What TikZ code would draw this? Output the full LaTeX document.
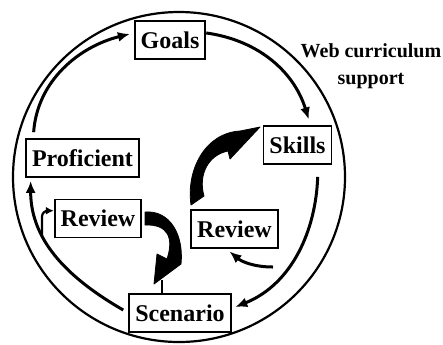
\documentclass[tikz,border=0pt]{standalone}
\usepackage{fontspec}
\setmainfont{Liberation Serif}
\usetikzlibrary{arrows.meta}

\begin{document}
\begin{tikzpicture}[x=0.5pt, y=0.5pt,
  stage/.style={draw, line width=0.9pt, font=\fontsize{12}{14}\selectfont\bfseries,
    minimum height=19pt, inner xsep=3pt, inner ysep=0pt},
  arr/.style={-{Latex[length=6pt,width=5pt]}, line width=1.5pt},
  sarr/.style={-{Latex[length=4pt,width=4pt]}, line width=1.1pt},
  fatarr/.style={fill=black, draw=black, line width=0.4pt, line join=round}
]
  \useasboundingbox (0,0) rectangle (443,-344);
  \draw[line width=1.1pt] (179,-177) ellipse [x radius=83pt, y radius=82.5pt];

  \node[stage] (goals) at (170,-40) {Goals};
  \node[stage] (skills) at (297.5,-145) {Skills};
  \node[stage] (prof) at (82.5,-158) {Proficient};
  \node[stage] (revA) at (98,-218.5) {Review};
  \node[stage] (revB) at (234.5,-229) {Review};
  \node[stage] (scen) at (180,-313) {Scenario};
  \node[font=\fontsize{10}{13.5}\selectfont\bfseries, align=center] (web) at (371,-66)
    {Web curriculum\\support};

  \coordinate (revAtail) at (42,-236);
  \coordinate (revBtail) at (273,-267);
  \coordinate (tipA) at (162,-280);

  \draw[arr, shorten <=3pt, shorten >=2pt] (prof.158) to[out=86,in=194] (goals.169);
  \draw[arr, shorten >=3pt] (goals.11) to[out=-8,in=107] (skills.57);
  \draw[arr, shorten <=6pt, shorten >=2pt] (skills.-44) to[out=-92,in=22] (scen.5);
  \draw[arr, shorten <=3pt, shorten >=1.5pt] (scen.west) to[out=150,in=-90] (prof.201);

  \draw[sarr, rounded corners=3pt] (revAtail) |- (revA.170);
  \draw[arr, shorten >=2pt] (revBtail) to[out=180,in=-40] (revB.248);

  % fat arrows
  \filldraw[fatarr] (145,-212) .. controls (170,-210) and (184,-235) .. (181,-264)
    -- (154,-284) -- (157,-254) -- (167,-259)
    .. controls (174,-238) and (168,-224) .. (145,-225) -- cycle;
  \draw[line width=0.8pt] (tipA) -- (tipA |- scen.north);
  \filldraw[fatarr] (191,-205) .. controls (186,-170) and (205,-133) .. (240,-131)
    -- (260,-127) -- (230,-159) -- (228,-151)
    .. controls (208,-155) and (198,-175) .. (204,-196) -- cycle;
\end{tikzpicture}
\end{document}
